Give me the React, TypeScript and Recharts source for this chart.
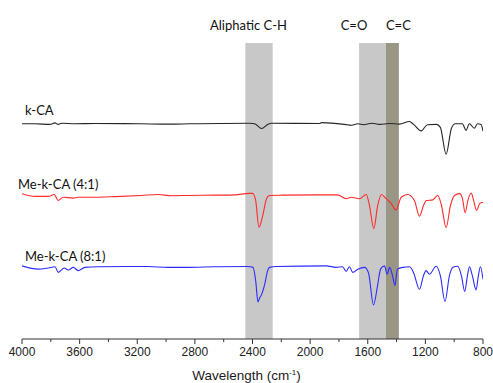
import React from 'react';
import { LineChart, Line, XAxis, YAxis, ReferenceArea, ReferenceDot } from 'recharts';

// Wavenumber (cm-1) axis
const tickValues = [4000, 3800, 3600, 3400, 3200, 3000, 2800, 2600, 2400, 2200, 2000, 1800, 1600, 1400, 1200, 1000, 800];
const majorTicks = [4000, 3600, 3200, 2800, 2400, 2000, 1600, 1200, 800];

// Highlight bands
const bandNames = ['Aliphatic C-H', 'C=O', 'C=C'];
const bandFrom = [2450, 1660, 1474];
const bandTo = [2260, 1474, 1384];

// Series names
const seriesNames = ['k-CA', 'Me-k-CA (4:1)', 'Me-k-CA (8:1)'];

// k-CA (offset transmittance, a.u.)
const kcaWave = [4000, 3910, 3806, 3771, 3750, 3723, 3633, 3494, 3182, 2974, 2835, 2420, 2385, 2336, 2295, 2267, 1934, 1920, 1760, 1711, 1670, 1629, 1574, 1518, 1449, 1380, 1310, 1282, 1229, 1186, 1123, 1096, 1056, 1019, 992, 943, 918, 895, 860, 839, 813, 800];
const kcaT = [72.7, 72.7, 72.5, 73.0, 72.5, 72.9, 72.7, 72.8, 72.7, 72.6, 72.7, 72.9, 72.7, 71.1, 72.5, 72.9, 72.8, 73.1, 72.5, 72.2, 72.7, 72.4, 72.9, 72.5, 72.8, 72.6, 73.5, 72.5, 70.3, 72.4, 72.5, 71.5, 62.4, 71.2, 72.7, 72.7, 70.5, 72.7, 71.2, 72.7, 72.5, 70.2];

// Me-k-CA (4:1)
const me41Wave = [4000, 3910, 3818, 3776, 3749, 3714, 3645, 3610, 3494, 3355, 3170, 3057, 2962, 2849, 2662, 2523, 2420, 2399, 2378, 2355, 2329, 2302, 2281, 2191, 1957, 1810, 1750, 1715, 1657, 1611, 1588, 1558, 1532, 1505, 1472, 1442, 1403, 1368, 1324, 1276, 1241, 1213, 1193, 1149, 1114, 1088, 1056, 1026, 998, 963, 943, 924, 904, 882, 866, 845, 822, 800];
const me41T = [49.1, 48.2, 48.2, 48.8, 46.8, 47.9, 47.6, 47.9, 47.9, 48.1, 48.5, 48.8, 48.4, 48.5, 48.6, 48.7, 49.2, 49.2, 46.8, 37.7, 41.7, 47.5, 48.5, 48.6, 48.7, 48.7, 47.4, 47.9, 47.4, 48.8, 45.1, 37.3, 44.8, 48.8, 47.4, 46.1, 43.6, 47.9, 48.8, 46.8, 41.5, 45.1, 46.8, 47.0, 48.5, 45.1, 37.6, 45.1, 48.5, 49.1, 47.5, 42.7, 47.0, 49.3, 47.0, 43.4, 45.8, 46.2];

// Me-k-CA (8:1)
const me81Wave = [4000, 3887, 3818, 3771, 3748, 3707, 3679, 3644, 3610, 3563, 3471, 3126, 2988, 2849, 2662, 2433, 2396, 2378, 2362, 2350, 2338, 2315, 2295, 2281, 2234, 1888, 1819, 1775, 1750, 1727, 1704, 1669, 1622, 1595, 1560, 1532, 1511, 1484, 1465, 1449, 1428, 1411, 1394, 1357, 1310, 1282, 1241, 1213, 1195, 1172, 1125, 1096, 1064, 1033, 1009, 975, 950, 927, 908, 894, 874, 848, 832, 818, 800];
const me81T = [24.7, 23.6, 24.0, 24.4, 22.5, 24.0, 23.3, 24.2, 23.1, 24.2, 24.4, 24.5, 24.2, 24.2, 24.4, 24.5, 24.2, 19.7, 12.5, 13.9, 14.9, 18.5, 23.1, 24.2, 24.5, 24.7, 24.2, 24.4, 22.9, 24.4, 22.5, 23.6, 24.2, 22.4, 11.5, 18.0, 23.6, 24.7, 21.9, 24.2, 21.4, 18.1, 23.6, 24.2, 24.4, 22.4, 16.8, 21.4, 23.1, 21.9, 24.6, 21.4, 12.7, 21.4, 24.2, 24.6, 21.4, 16.1, 21.4, 24.4, 21.4, 16.6, 21.4, 24.4, 20.2];

const zip = (w: number[], t: number[]) => w.map((x, i) => ({ w: x, t: t[i] }));

const series = [
  { name: seriesNames[0], data: zip(kcaWave, kcaT), color: '#262626', dx: 3, dy: -8.5 },
  { name: seriesNames[1], data: zip(me41Wave, me41T), color: '#ff2a2a', dx: -4, dy: -5 },
  { name: seriesNames[2], data: zip(me81Wave, me81T), color: '#2b2bff', dx: 3, dy: -5 },
];

const bands = [
  { name: bandNames[0], x1: bandFrom[0], x2: bandTo[0], fill: '#c8c8c8', dx: -10.5 },
  { name: bandNames[1], x1: bandFrom[1], x2: bandTo[1], fill: '#c8c8c8', dx: -18.5 },
  { name: bandNames[2], x1: bandFrom[2], x2: bandTo[2], fill: '#9a9686', dx: 6 },
];

const labelFont = 'Lato, "Open Sans", sans-serif';

const AxisTick = (props: any) => {
  const { x, y, payload } = props;
  const major = majorTicks.includes(payload.value);
  return (
    <g>
      <line x1={x} x2={x} y1={y} y2={y + (major ? 5 : 3)} stroke="#333" strokeWidth={1} />
      {major && (
        <text x={x} y={y + 17} textAnchor="middle" fontFamily='"Liberation Sans", Arial, sans-serif' fontSize={12} fill="#222">
          {payload.value}
        </text>
      )}
    </g>
  );
};

export default function App() {
  return (
    <div style={{ position: 'absolute', left: 0, top: 0 }}>
      <LineChart width={493} height={383} margin={{ top: 43, right: 10, bottom: 0, left: 22 }}>
        <XAxis
          type="number"
          dataKey="w"
          domain={[800, 4000]}
          reversed
          ticks={tickValues}
          interval={0}
          tickSize={0}
          tickMargin={0}
          tickLine={false}
          tick={<AxisTick />}
          stroke="#333"
          height={44}
          allowDataOverflow
          label={{
            content: (p: any) => {
              const vb = p.viewBox;
              return (
                <text x={vb.x + vb.width / 2 - 6} y={vb.y + 41} textAnchor="middle" fontFamily='"Liberation Sans", Arial, sans-serif' fontSize={13.5} fill="#1a1a1a">
                  Wavelength (cm
                  <tspan fontSize={8} dy={-5}>-1</tspan>
                  <tspan dy={5}>)</tspan>
                </text>
              );
            },
          }}
        />
        <YAxis hide type="number" domain={[0, 100]} allowDataOverflow />
        {bands.map((b) => (
          <ReferenceArea
            key={b.name}
            x1={b.x1}
            x2={b.x2}
            fill={b.fill}
            fillOpacity={1}
            stroke="none"
            ifOverflow="extendDomain"
            label={{
              content: (p: any) => {
                const vb = p.viewBox;
                return (
                  <text x={vb.x + vb.width / 2 + b.dx} y={vb.y - 13} textAnchor="middle" fontFamily={labelFont} fontSize={13} fill="#111">
                    {b.name}
                  </text>
                );
              },
            }}
          />
        ))}
        {series.map((s) => (
          <Line
            key={s.name}
            data={s.data}
            dataKey="t"
            type="monotone"
            stroke={s.color}
            strokeWidth={1.1}
            dot={false}
            activeDot={false}
            isAnimationActive={false}
          />
        ))}
        {series.map((s) => (
          <ReferenceDot
            key={'lbl-' + s.name}
            x={s.data[0].w}
            y={s.data[0].t}
            r={0}
            fill="none"
            stroke="none"
            label={{
              content: (p: any) => {
                const vb = p.viewBox;
                return (
                  <text x={vb.x + s.dx} y={vb.y + s.dy} textAnchor="start" fontFamily={labelFont} fontSize={13} fill="#111">
                    {s.name}
                  </text>
                );
              },
            }}
          />
        ))}
      </LineChart>
    </div>
  );
}
